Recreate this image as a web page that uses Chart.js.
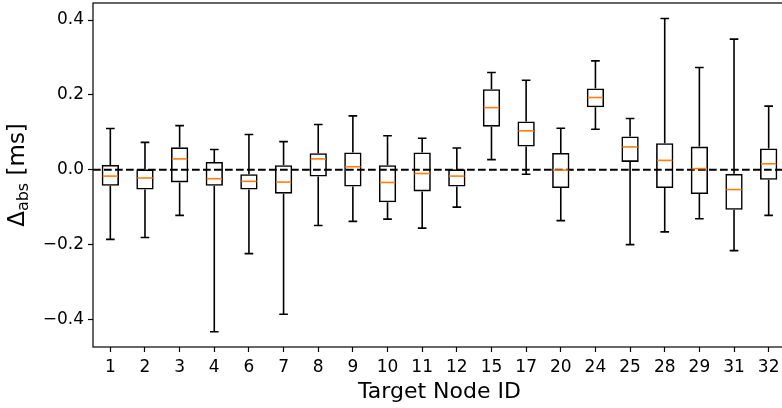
<!DOCTYPE html>
<html>
<head>
<meta charset="utf-8">
<script src="https://cdn.jsdelivr.net/npm/chart.js@4/dist/chart.umd.min.js"></script>
<style>
html,body{margin:0;padding:0;background:#fff;overflow:hidden;}
#wrap{width:790px;height:408px;position:relative;}
</style>
</head>
<body>
<div id="wrap"><canvas id="c"></canvas></div>
<script>
// ---- data ----
const categories = ['1','2','3','4','6','7','8','9','10','11','12','15','17','20','24','25','28','29','31','32'];
const whiskerLow  = [-0.186,-0.181,-0.122,-0.433,-0.224,-0.386,-0.149,-0.138,-0.132,-0.156,-0.100,0.027,-0.012,-0.136,0.108,-0.200,-0.166,-0.131,-0.216,-0.122];
const q1          = [-0.043,-0.053,-0.034,-0.043,-0.053,-0.064,-0.018,-0.045,-0.087,-0.058,-0.045,0.115,0.062,-0.049,0.167,0.021,-0.049,-0.065,-0.107,-0.027];
const medians     = [-0.017,-0.022,0.029,-0.024,-0.031,-0.033,0.029,0.008,-0.034,-0.010,-0.017,0.166,0.104,-0.001,0.193,0.061,0.025,0.003,-0.053,0.016];
const q3          = [0.013,0.001,0.060,0.021,-0.012,0.012,0.044,0.046,0.012,0.046,0.001,0.215,0.129,0.045,0.217,0.089,0.071,0.062,-0.011,0.057];
const whiskerHigh = [0.110,0.073,0.118,0.054,0.094,0.075,0.121,0.144,0.091,0.084,0.058,0.260,0.239,0.111,0.291,0.137,0.404,0.273,0.349,0.170];
const yTicks = [-0.4,-0.2,0.0,0.2,0.4];
const yMin = -0.4736, yMax = 0.4455;
const referenceLine = 0.0;

const FONT = "'DejaVu Sans', sans-serif";

const boxPlugin = {
  id: 'boxParts',
  beforeDatasetsDraw(chart) {
    const {ctx, chartArea: a, scales: {y}} = chart;
    const py = y.getPixelForValue(referenceLine);
    ctx.save();
    ctx.strokeStyle = '#000';
    ctx.lineWidth = 2.2;
    ctx.setLineDash([7.7, 3.3]);
    ctx.beginPath();
    ctx.moveTo(a.left, py);
    ctx.lineTo(a.right, py);
    ctx.stroke();
    ctx.restore();
  },
  afterDatasetsDraw(chart) {
    const {ctx, chartArea: a, scales: {x, y}} = chart;
    const meta = chart.getDatasetMeta(0);
    ctx.save();
    ctx.lineCap = 'butt';
    categories.forEach((c, i) => {
      const bar = meta.data[i];
      const cx = x.getPixelForValue(i);
      const w = bar.width;
      ctx.strokeStyle = '#000';
      ctx.lineWidth = 1.6;
      ctx.beginPath();
      ctx.moveTo(cx, y.getPixelForValue(q3[i]));
      ctx.lineTo(cx, y.getPixelForValue(whiskerHigh[i]));
      ctx.moveTo(cx, y.getPixelForValue(q1[i]));
      ctx.lineTo(cx, y.getPixelForValue(whiskerLow[i]));
      const hc = w / 4;
      ctx.moveTo(cx - hc, y.getPixelForValue(whiskerHigh[i]));
      ctx.lineTo(cx + hc, y.getPixelForValue(whiskerHigh[i]));
      ctx.moveTo(cx - hc, y.getPixelForValue(whiskerLow[i]));
      ctx.lineTo(cx + hc, y.getPixelForValue(whiskerLow[i]));
      ctx.stroke();
      ctx.strokeStyle = '#ff7f0e';
      ctx.lineWidth = 1.6;
      ctx.beginPath();
      const pm = y.getPixelForValue(medians[i]);
      ctx.moveTo(cx - w / 2 + 1, pm);
      ctx.lineTo(cx + w / 2 - 1, pm);
      ctx.stroke();
    });
    ctx.strokeStyle = '#000';
    ctx.lineWidth = 1.2;
    ctx.strokeRect(a.left, a.top, a.right - a.left, a.bottom - a.top);
    ctx.restore();
  },
  afterDraw(chart) {
    const {ctx, chartArea: a} = chart;
    ctx.save();
    const big = "23px " + FONT, small = "16px " + FONT;
    const p1 = '\u0394', p2 = 'abs', p3 = ' [ms]';
    ctx.font = big; const w1 = ctx.measureText(p1).width, w3 = ctx.measureText(p3).width;
    ctx.font = small; const w2 = ctx.measureText(p2).width;
    const total = w1 + w2 + w3;
    const cy = (a.top + a.bottom) / 2;
    ctx.translate(24, cy);
    ctx.rotate(-Math.PI / 2);
    ctx.fillStyle = '#000';
    ctx.textBaseline = 'alphabetic';
    ctx.textAlign = 'left';
    let sx = -total / 2;
    ctx.font = big; ctx.fillText(p1, sx, 0); sx += w1;
    ctx.font = small; ctx.fillText(p2, sx, 4); sx += w2;
    ctx.font = big; ctx.fillText(p3, sx, 0);
    ctx.restore();
  }
};

new Chart(document.getElementById('c'), {
  type: 'bar',
  data: {
    labels: categories,
    datasets: [{
      data: categories.map((c, i) => [q1[i], q3[i]]),
      backgroundColor: 'rgba(0,0,0,0)',
      borderColor: '#000',
      borderWidth: 1.6,
      borderSkipped: false,
      barPercentage: 0.5,
      categoryPercentage: 1.0
    }]
  },
  options: {
    responsive: true,
    maintainAspectRatio: false,
    animation: false,
    devicePixelRatio: 1,
    layout: { padding: { top: 3, right: 4, left: 0, bottom: 0 } },
    plugins: { legend: { display: false }, tooltip: { enabled: false } },
    scales: {
      x: {
        type: 'category',
        offset: true,
        border: { display: false },
        grid: { offset: false, drawOnChartArea: false, drawTicks: true, tickLength: 5, color: '#000', tickWidth: 1.2 },
        ticks: { color: '#000', font: { family: FONT, size: 17 }, padding: 5, maxRotation: 0, autoSkip: false },
        title: { display: true, text: 'Target Node ID', color: '#000', font: { family: FONT, size: 22 }, padding: { top: 0, bottom: 3 } },
        afterFit(s) { s.height = 61; s.paddingLeft = 0; s.paddingRight = 0; }
      },
      y: {
        min: yMin, max: yMax,
        border: { display: false },
        grid: { drawOnChartArea: false, drawTicks: true, tickLength: 5, color: '#000', tickWidth: 1.2 },
        afterBuildTicks(s) { s.ticks = yTicks.map(v => ({ value: v })); },
        ticks: {
          color: '#000', font: { family: FONT, size: 17 }, padding: 4,
          callback: v => v.toFixed(1).replace('-', '\u2212')
        },
        afterFit(s) { s.width = 93; s.paddingTop = 0; s.paddingBottom = 0; }
      }
    }
  },
  plugins: [boxPlugin]
});
</script>
</body>
</html>
